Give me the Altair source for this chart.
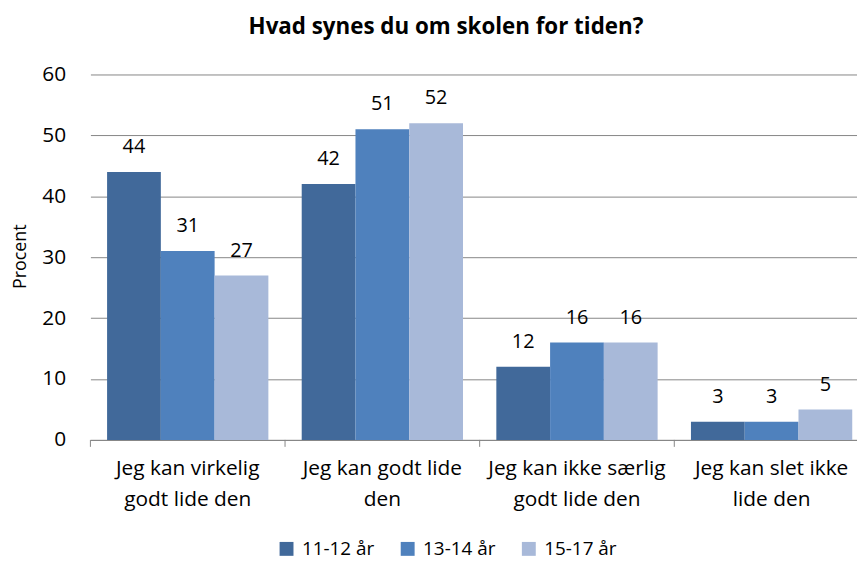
import altair as alt
import pandas as pd

categories = ["Jeg kan virkelig|godt lide den", "Jeg kan godt lide|den",
              "Jeg kan ikke særlig|godt lide den", "Jeg kan slet ikke|lide den"]
groups = ["11-12 år", "13-14 år", "15-17 år"]
v_11_12 = [44, 42, 12, 3]
v_13_14 = [31, 51, 16, 3]
v_15_17 = [27, 52, 16, 5]
colors = ["#41699A", "#4F81BD", "#A8B9D9"]

rows = []
for g, vals in zip(groups, [v_11_12, v_13_14, v_15_17]):
    for c, v in zip(categories, vals):
        rows.append({"cat": c, "grp": g, "val": v})
df = pd.DataFrame(rows)
edges = pd.DataFrame({"cat": categories})

FONT = "Open Sans"
W, H = 784, 368

xscale = alt.Scale(domain=categories, paddingInner=0, paddingOuter=0)
xoff = alt.Scale(domain=groups, paddingInner=0, paddingOuter=0.31)

base = alt.Chart(df)
bars = base.mark_bar().encode(
    x=alt.X("cat:N", scale=xscale, sort=categories,
            axis=alt.Axis(title=None, labelExpr="split(datum.label, '|')",
                          labelAngle=0, labelFontSize=21, labelFont=FONT,
                          labelColor="#000", ticks=False, labelPadding=18,
                          domainColor="#868686", labelLineHeight=31)),
    xOffset=alt.XOffset("grp:N", scale=xoff, sort=groups),
    y=alt.Y("val:Q", scale=alt.Scale(domain=[0, 60]),
            axis=alt.Axis(values=[0, 10, 20, 30, 40, 50, 60], title="Procent",
                          titleFont=FONT, titleFontSize=18, titleFontWeight="normal",
                          titleColor="#000", titleAngle=-90, titleX=-65, titleY=183,
                          titleAlign="center", titleBaseline="alphabetic",
                          labelFont=FONT, labelFontSize=21, labelColor="#000",
                          ticks=False, domain=False, labelPadding=25,
                          gridColor="#868686", gridWidth=1)),
    color=alt.Color("grp:N", scale=alt.Scale(domain=groups, range=colors),
                    legend=alt.Legend(title=None, orient="none", direction="horizontal",
                                      legendX=188, legendY=468, symbolType="square",
                                      symbolSize=196, symbolStrokeWidth=0,
                                      labelFont=FONT, labelFontSize=19,
                                      labelColor="#000", columnPadding=24, labelOffset=6,
                                      symbolOpacity=1)),
)
labels = base.mark_text(baseline="alphabetic", dy=-19, font=FONT, fontSize=20, color="#000").encode(
    x=alt.X("cat:N", scale=xscale, sort=categories),
    xOffset=alt.XOffset("grp:N", scale=xoff, sort=groups),
    y="val:Q",
    text="val:Q",
)
ticks0 = alt.Chart(edges).mark_rule(color="#868686").encode(
    x=alt.X("cat:N", scale=xscale, sort=categories, bandPosition=0),
    y=alt.value(H), y2=alt.value(H + 7),
)

chart = alt.layer(bars, labels, ticks0).properties(
    width=W, height=H,
    title=alt.TitleParams("Hvad synes du om skolen for tiden?", font=FONT, fontSize=22.5,
                          fontWeight="bold", color="#000", anchor="middle", dx=-34,
                          offset=25),
    autosize=alt.AutoSizeParams(type="none"),
    padding={"left": 83, "top": 65, "right": -12, "bottom": 120},
).configure_view(stroke=None)

chart.save("out.html", embed_options={"renderer": "svg", "actions": False})
